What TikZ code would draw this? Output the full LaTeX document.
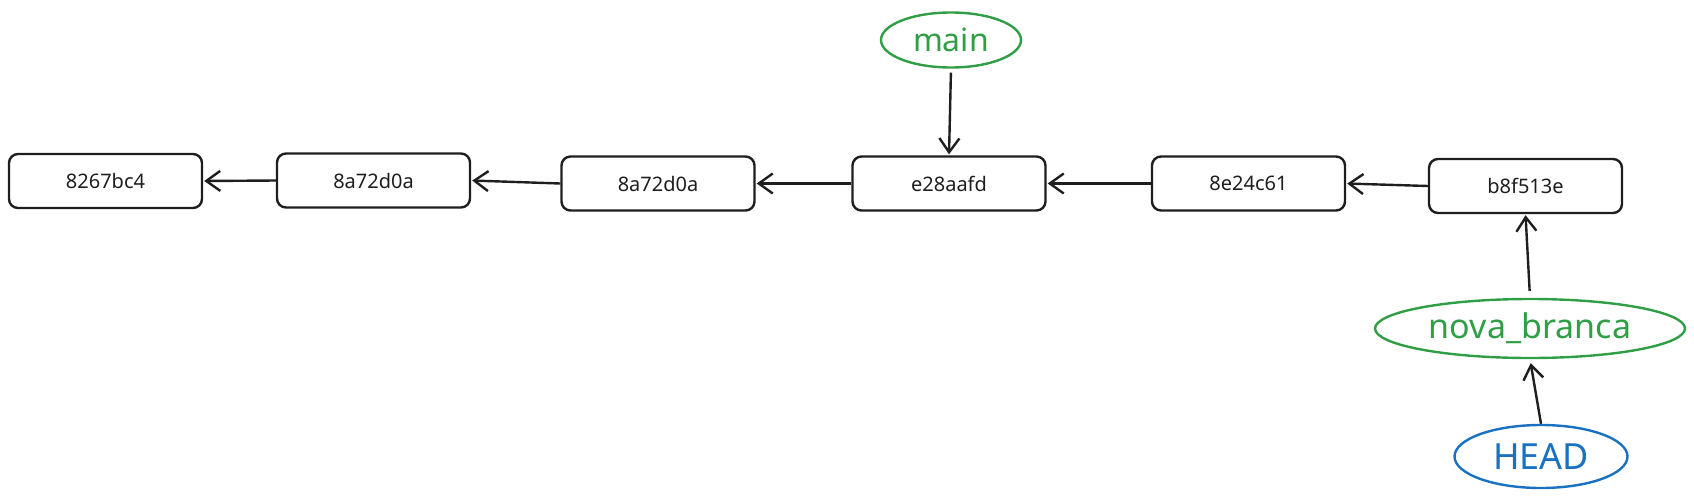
\documentclass[tikz,border=0pt]{standalone}
\usepackage{fontspec}
\setmainfont{Noto Sans}
\usetikzlibrary{shapes.geometric,arrows.meta}
\definecolor{ink}{HTML}{1E1E1E}
\definecolor{grn}{HTML}{2F9E44}
\definecolor{blu}{HTML}{1971C2}
\tikzset{
  commit/.style={draw=ink, line width=2.4pt, rounded corners=9pt, minimum width=193pt, minimum height=54pt, inner sep=0pt, font=\fontsize{20pt}{24pt}\selectfont, text=ink},
  branch/.style={ellipse, draw=grn, line width=2.4pt, inner sep=0pt, text=grn},
  headref/.style={ellipse, draw=blu, line width=2.4pt, inner sep=0pt, text=blu},
  link/.style={draw=ink, line width=2.4pt, -{Straight Barb[length=14pt, width=20pt, line width=2.4pt]}}
}
\begin{document}
\begin{tikzpicture}[x=1pt, y=-1pt]
\useasboundingbox (0,0) rectangle (1694,498);
\node[commit] (b1) at (105.5,181) {8267bc4};
\node[commit] (b2) at (373.5,180.5) {8a72d0a};
\node[commit] (b3) at (658,183.5) {8a72d0a};
\node[commit] (b4) at (949,183.5) {e28aafd};
\node[commit] (b5) at (1248.5,183.5) {8e24c61};
\node[commit] (b6) at (1525.5,186) {b8f513e};
\node[branch, minimum width=140pt, minimum height=55pt, font=\fontsize{32pt}{36pt}\selectfont] (main) at (951,40) {main};
\node[branch, minimum width=310pt, minimum height=59pt, font=\fontsize{34pt}{38pt}\selectfont] (nova) at (1530,328.5) {nova\_branca};
\node[headref, minimum width=173pt, minimum height=63pt, font=\fontsize{36pt}{40pt}\selectfont] (head) at (1541,456.5) {HEAD};
\draw[link, shorten >=1pt] (b2.west) -- (b1.east);
\draw[link, shorten >=1pt] (b3.west) -- (b2.east);
\draw[link, shorten >=1pt] (b4.west) -- (b3.east);
\draw[link, shorten >=1pt] (b5.west) -- (b4.east);
\draw[link, shorten >=1pt] (b6.west) -- (b5.east);
\draw[link, shorten <=4pt, shorten >=1pt] (main.south) -- (b4.north);
\draw[link, shorten <=7pt, shorten >=1pt] (nova.north) -- (b6.south);
\draw[link, shorten >=4pt] (head.north) -- (nova.south);
\end{tikzpicture}
\end{document}
